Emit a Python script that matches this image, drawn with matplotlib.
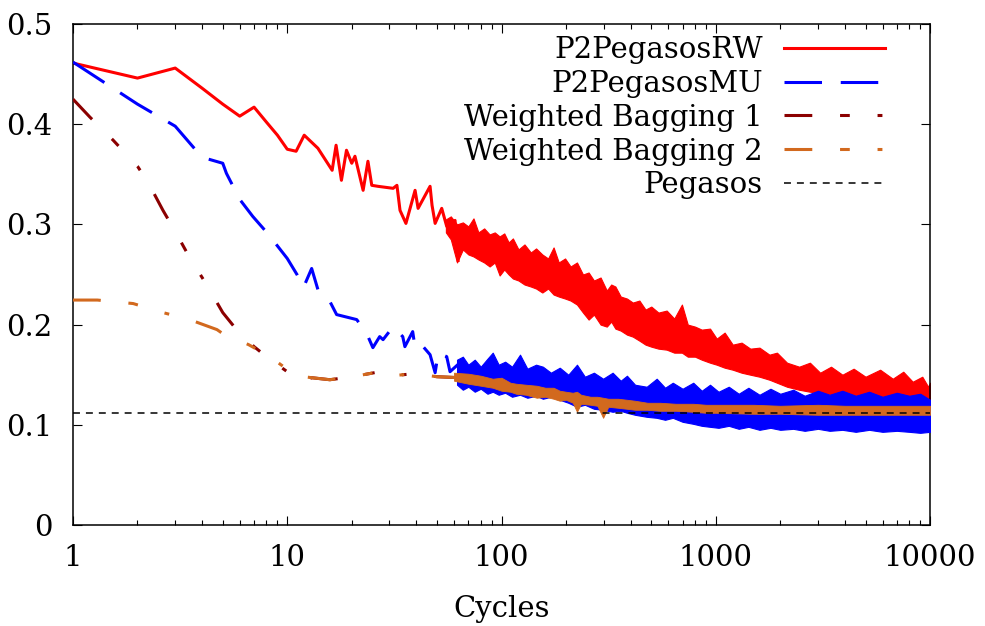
import matplotlib
matplotlib.use("Agg")
import matplotlib.pyplot as plt

plt.rcParams['font.family'] = ['DejaVu Serif']
plt.rcParams['lines.scale_dashes'] = False

# P2PegasosRW: clean start + spiky part
red_x = [1, 2, 3, 4, 5, 6, 7, 8, 9, 10, 11, 12, 13.9, 16.2, 16.9, 17.9, 18.9, 20, 20.7,
         22.6, 23.8, 24.8, 26.5, 31.2, 32.5, 33.6, 35.8, 39.5, 40.8, 46.4, 47.4, 49,
         52.6, 55.5, 60.7, 62.7]
red_y = [0.461, 0.446, 0.456, 0.436, 0.420, 0.408, 0.417, 0.402, 0.389, 0.375, 0.373,
         0.389, 0.376, 0.354, 0.379, 0.344, 0.374, 0.361, 0.368, 0.334, 0.363, 0.339,
         0.338, 0.336, 0.339, 0.314, 0.301, 0.334, 0.316, 0.338, 0.319, 0.301, 0.316,
         0.298, 0.304, 0.264]
# noisy band (lower / upper envelope)
red_band_x = [55, 58, 62, 66, 70, 74, 78, 83, 88, 93, 98, 103, 108, 113, 120, 128, 137,
              145, 155, 165, 175, 185, 198, 210, 225, 240, 255, 270, 290, 310, 325, 340,
              360, 385, 410, 440, 470, 500, 540, 590, 640, 695, 740, 800, 860, 940, 1010,
              1100, 1200, 1320, 1450, 1600, 1780, 1930, 2150, 2450, 2750, 3070, 3450,
              3900, 4400, 5000, 5850, 6700, 7500, 8300, 9200, 9800, 10000]
red_band_lo = [0.292, 0.285, 0.262, 0.275, 0.270, 0.268, 0.265, 0.262, 0.258, 0.262,
               0.249, 0.255, 0.250, 0.246, 0.244, 0.240, 0.238, 0.236, 0.232, 0.236,
               0.230, 0.228, 0.226, 0.224, 0.220, 0.212, 0.205, 0.210, 0.200, 0.198,
               0.203, 0.196, 0.194, 0.190, 0.188, 0.184, 0.180, 0.178, 0.176, 0.175,
               0.172, 0.172, 0.168, 0.168, 0.165, 0.162, 0.160, 0.157, 0.155, 0.152,
               0.150, 0.148, 0.145, 0.142, 0.138, 0.135, 0.133, 0.132, 0.130, 0.127,
               0.126, 0.125, 0.125, 0.124, 0.123, 0.123, 0.122, 0.121, 0.121]
red_band_hi = [0.305, 0.308, 0.300, 0.302, 0.298, 0.306, 0.292, 0.296, 0.290, 0.292,
               0.288, 0.291, 0.282, 0.286, 0.275, 0.280, 0.272, 0.276, 0.270, 0.266,
               0.277, 0.262, 0.266, 0.258, 0.262, 0.250, 0.252, 0.244, 0.247, 0.234,
               0.240, 0.238, 0.228, 0.226, 0.222, 0.224, 0.215, 0.218, 0.212, 0.214,
               0.206, 0.220, 0.200, 0.198, 0.195, 0.196, 0.186, 0.192, 0.180, 0.182,
               0.176, 0.177, 0.170, 0.172, 0.162, 0.158, 0.162, 0.152, 0.158, 0.150,
               0.156, 0.148, 0.155, 0.146, 0.153, 0.143, 0.148, 0.138, 0.142]

# P2PegasosMU
blue_x = [1, 2, 3, 4, 5, 5.2, 6, 6.9, 8.1, 10, 11.1, 11.9, 13, 13.9, 15.3, 17, 21.1,
          23.5, 25.1, 27, 28, 31.2, 34.6, 35.4, 38.5, 39.5, 42.3, 46.4, 49, 50.7, 55.5,
          57.5, 64, 66.3]
blue_y = [0.462, 0.420, 0.398, 0.367, 0.361, 0.351, 0.325, 0.308, 0.291, 0.266, 0.250,
          0.237, 0.256, 0.235, 0.229, 0.210, 0.205, 0.191, 0.177, 0.188, 0.185, 0.198,
          0.188, 0.178, 0.193, 0.177, 0.180, 0.170, 0.152, 0.172, 0.168, 0.153, 0.162,
          0.148]
blue_band_x = [62, 66, 70, 75, 80, 86, 91, 97, 104, 112, 122, 132, 145, 156, 170, 187,
               205, 225, 245, 270, 298, 330, 360, 385, 420, 476, 530, 580, 630, 700, 785,
               860, 940, 1030, 1150, 1280, 1420, 1600, 1800, 2000, 2300, 2600, 3000, 3400,
               3900, 4500, 5200, 6000, 7000, 8000, 9000, 10000]
blue_band_lo = [0.140, 0.135, 0.138, 0.133, 0.136, 0.131, 0.133, 0.130, 0.132, 0.128,
                0.130, 0.127, 0.129, 0.126, 0.128, 0.125, 0.122, 0.118, 0.120, 0.116,
                0.115, 0.113, 0.114, 0.112, 0.110, 0.108, 0.107, 0.105, 0.107, 0.103,
                0.101, 0.099, 0.098, 0.097, 0.099, 0.096, 0.098, 0.095, 0.097, 0.095,
                0.096, 0.094, 0.096, 0.094, 0.095, 0.093, 0.095, 0.093, 0.094, 0.093,
                0.092, 0.093]
blue_band_hi = [0.165, 0.168, 0.160, 0.165, 0.158, 0.166, 0.172, 0.160, 0.163, 0.158,
                0.170, 0.156, 0.160, 0.158, 0.152, 0.157, 0.150, 0.160, 0.148, 0.152,
                0.146, 0.152, 0.144, 0.149, 0.140, 0.138, 0.146, 0.137, 0.142, 0.136,
                0.142, 0.134, 0.140, 0.133, 0.138, 0.131, 0.137, 0.130, 0.136, 0.131,
                0.135, 0.129, 0.134, 0.130, 0.134, 0.129, 0.133, 0.128, 0.132, 0.129,
                0.131, 0.125]

# Weighted Bagging 1
wb1_x = [1, 1.2, 1.54, 2, 2.24, 2.63, 3, 3.5, 4.2, 5, 5.9, 7, 8, 9, 10, 11, 12, 13,
         15.8, 20.2, 27, 31, 39, 50, 64, 80]
wb1_y = [0.425, 0.407, 0.384, 0.358, 0.342, 0.314, 0.293, 0.267, 0.240, 0.212, 0.193,
         0.178, 0.168, 0.160, 0.153, 0.147, 0.143, 0.147, 0.145, 0.148, 0.153, 0.149,
         0.151, 0.148, 0.147, 0.144]

# Weighted Bagging 2
wb2_x = [1, 1.3, 1.91, 2.63, 3.5, 4.7, 5, 6.6, 8.3, 9.9, 11, 12, 13, 15.8, 20.2, 27,
         31, 39, 50, 64, 80, 100]
wb2_y = [0.2245, 0.2245, 0.221, 0.212, 0.205, 0.195, 0.191, 0.180, 0.168, 0.156, 0.152,
         0.148, 0.147, 0.145, 0.148, 0.153, 0.149, 0.151, 0.148, 0.147, 0.144, 0.140]
wb2_band_x = [60, 70, 80, 91, 100, 110, 117, 130, 146, 160, 175, 187, 200, 215, 225, 235,
              260, 280, 298, 315, 350, 385, 420, 480, 550, 650, 785, 900, 1000, 1500,
              2000, 3000, 4000, 6000, 8000, 10000]
wb2_band_lo = [0.144, 0.141, 0.139, 0.137, 0.134, 0.133, 0.131, 0.130, 0.127, 0.128,
               0.126, 0.124, 0.125, 0.122, 0.113, 0.121, 0.120, 0.119, 0.107, 0.118,
               0.117, 0.116, 0.115, 0.115, 0.114, 0.114, 0.113, 0.112, 0.112, 0.111,
               0.111, 0.110, 0.110, 0.110, 0.110, 0.110]
wb2_band_hi = [0.152, 0.151, 0.149, 0.146, 0.147, 0.142, 0.141, 0.140, 0.139, 0.137,
               0.137, 0.134, 0.133, 0.132, 0.133, 0.130, 0.128, 0.128, 0.127, 0.126,
               0.126, 0.125, 0.124, 0.122, 0.122, 0.121, 0.121, 0.120, 0.120, 0.120,
               0.119, 0.120, 0.119, 0.119, 0.119, 0.119]

pegasos_y = 0.112

xtick_vals = [1, 10, 100, 1000, 10000]
xtick_labels = ['1', '10', '100', '1000', '10000']
ytick_vals = [0, 0.1, 0.2, 0.3, 0.4, 0.5]
ytick_labels = ['0', '0.1', '0.2', '0.3', '0.4', '0.5']

RED = '#ff0000'
BLUE = '#0000ff'
DARKRED = '#8b0000'
ORANGE = '#d2691e'
FS = 21

fig = plt.figure(figsize=(9.85, 6.26), dpi=100)
ax = fig.add_axes([0.0741, 0.1613, 0.8701, 0.8004])

lw = 2.2
ax.plot(red_x, red_y, color=RED, lw=lw, label='P2PegasosRW', zorder=2)
ax.fill_between(red_band_x, red_band_lo, red_band_hi, color=RED, lw=0.8, zorder=2)

ax.plot(blue_x, blue_y, color=BLUE, lw=lw, dashes=(27, 13.5), label='P2PegasosMU', zorder=3)
ax.fill_between(blue_band_x, blue_band_lo, blue_band_hi, color=BLUE, lw=0.8, zorder=3)

wb_dash = (20, 20, 7, 20, 3.5, 20)
ax.plot(wb1_x, wb1_y, color=DARKRED, lw=lw, dashes=wb_dash, label='Weighted Bagging 1', zorder=4)
ax.plot(wb2_x, wb2_y, color=ORANGE, lw=lw, dashes=wb_dash, label='Weighted Bagging 2', zorder=5)
ax.fill_between(wb2_band_x, wb2_band_lo, wb2_band_hi, color=ORANGE, lw=0.6, zorder=5)

ax.axhline(pegasos_y, color='black', lw=1.1, dashes=(5, 4.3), label='Pegasos', zorder=6)

ax.set_xscale('log')
ax.set_xlim(1, 10000)
ax.set_ylim(0, 0.5)
ax.set_xticks(xtick_vals)
ax.set_xticklabels(xtick_labels)
ax.set_yticks(ytick_vals)
ax.set_yticklabels(ytick_labels)

ax.tick_params(which='both', direction='in', top=True, right=True, width=0.8, labelsize=FS)
ax.tick_params(which='major', length=6.5)
ax.tick_params(which='minor', length=3.6)
ax.tick_params(axis='x', pad=14)
ax.tick_params(axis='y', pad=15)
for s in ax.spines.values():
    s.set_linewidth(1.1)

ax.set_xlabel('Cycles', fontsize=FS, labelpad=16)

ax.legend(loc='upper right', bbox_to_anchor=(0.9475, 0.976), markerfirst=False,
          frameon=False, fontsize=FS, handlelength=3.45, handletextpad=0.75,
          labelspacing=0.2, borderpad=0, borderaxespad=0)

fig.savefig('out.png', dpi=100)
